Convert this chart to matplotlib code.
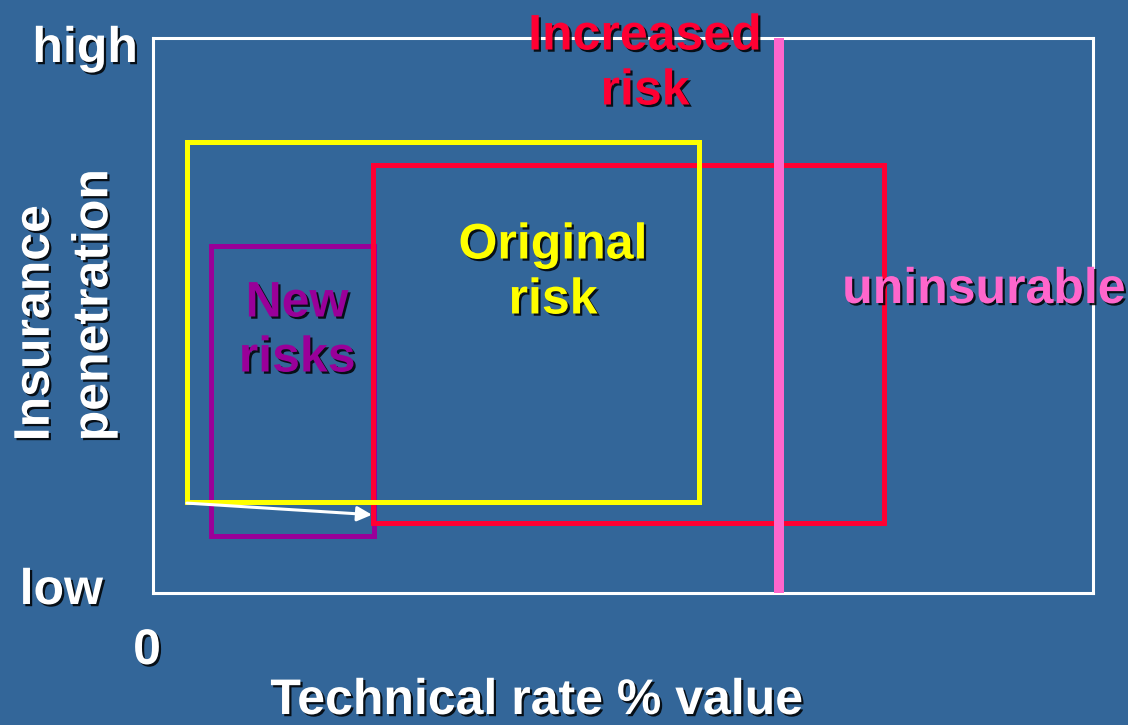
import matplotlib
matplotlib.use('Agg')
import matplotlib.pyplot as plt
import matplotlib.patheffects as pe
from matplotlib.patches import Rectangle

# axis scale: 0..100 both ways (technical rate, insurance penetration)
box_names = ['New risks', 'Increased risk', 'Original risk']
box_x0 = [6.2, 23.4, 3.6]
box_x1 = [23.5, 77.8, 58.1]
box_y0 = [10.3, 12.6, 16.4]
box_y1 = [62.5, 77.1, 81.3]
box_colors = ['#990099', '#FF0033', '#FFFF00']

limit_x = 66.6  # uninsurable threshold
shift_from = (3.6, 16.2)
shift_to = (23.3, 14.1)

bg = '#336699'
fig = plt.figure(figsize=(11.28, 7.25), dpi=100, facecolor=bg)
W, H = 1128, 725
ax = fig.add_axes([153 / W, (725 - 593) / H, 940 / W, 555 / H])
ax.set_facecolor(bg)
ax.set_xlim(0, 100)
ax.set_ylim(0, 100)
ax.set_xticks([])
ax.set_yticks([])
for s in ax.spines.values():
    s.set_color('white')
    s.set_linewidth(2.2)

for x0, x1, y0, y1, c in zip(box_x0, box_x1, box_y0, box_y1, box_colors):
    ax.add_patch(Rectangle((x0, y0), x1 - x0, y1 - y0, fill=False,
                           edgecolor=c, linewidth=3.6, zorder=3))

ax.axvline(limit_x, color='#FF66CC', linewidth=7.2, zorder=4, solid_capstyle='butt')

ax.annotate('', xy=shift_to, xytext=shift_from,
            arrowprops=dict(arrowstyle='-|>', color='white', lw=2.2,
                            mutation_scale=22, shrinkA=0, shrinkB=0),
            zorder=5)

shadow = [pe.withSimplePatchShadow(offset=(1.6, -1.6), shadow_rgbFace='black', alpha=0.85)]
font = dict(family=['Liberation Sans', 'DejaVu Sans'], weight='bold', fontsize=36,
            path_effects=shadow, zorder=6)


def px(x, y):
    return ((x - 153) / 940 * 100, (593 - y) / 555 * 100)


ax.text(*px(645, 64), 'Increased\nrisk', color='#FF0033', ha='center', va='center',
        linespacing=1.25, clip_on=False, **font)
ax.text(*px(553, 273), 'Original\nrisk', color='#FFFF00', ha='center', va='center',
        linespacing=1.25, **font)
ax.text(*px(297, 331), 'New\nrisks', color='#990099', ha='center', va='center',
        linespacing=1.25, **font)
ax.text(*px(984, 290), 'uninsurable', color='#FF66CC', ha='center', va='center',
        clip_on=False, **font)

ax.text(*px(138, 49), 'high', color='white', ha='right', va='center', clip_on=False, **font)
ax.text(*px(103, 591), 'low', color='white', ha='right', va='center', clip_on=False, **font)
ax.text(*px(147, 651), '0', color='white', ha='center', va='center', clip_on=False, **font)
ax.text(*px(537, 701), 'Technical rate % value', color='white', ha='center', va='center',
        clip_on=False, **font)
ax.text(*px(65, 305), 'Insurance\npenetration', color='white', ha='center', va='center',
        rotation=90, multialignment='left', linespacing=1.35, clip_on=False, **font)

fig.savefig('out.png', dpi=100, facecolor=bg)
